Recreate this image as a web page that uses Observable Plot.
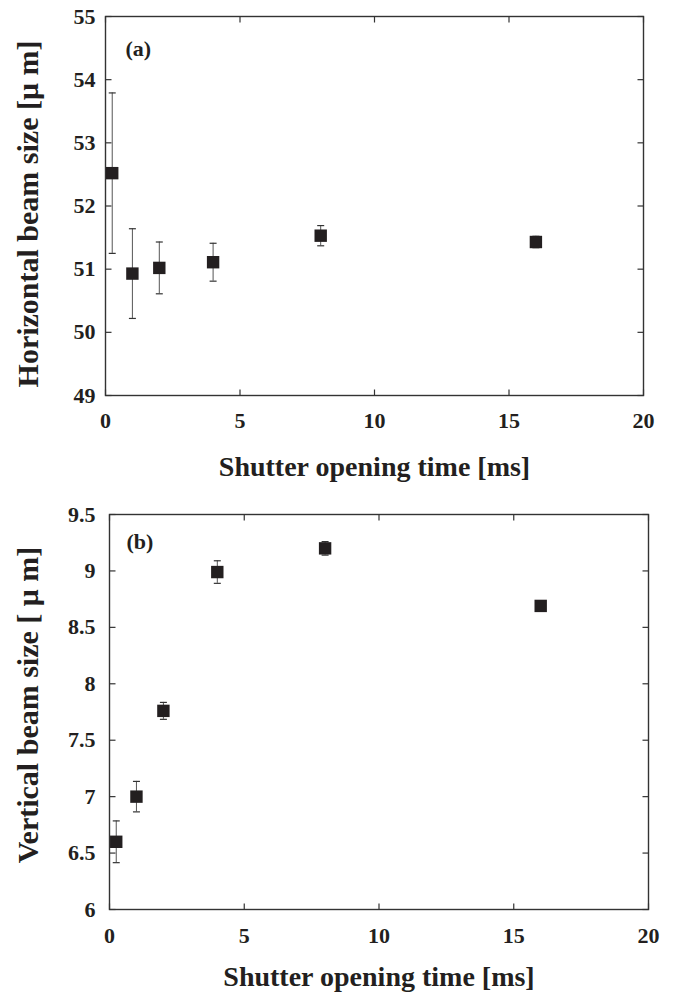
<!DOCTYPE html>
<html><head><meta charset="utf-8">
<script src="https://cdn.jsdelivr.net/npm/d3@7"></script>
<script src="https://cdn.jsdelivr.net/npm/@observablehq/plot@0.6"></script>
<style>
html,body{margin:0;padding:0;background:#fff;}
#chart{width:673px;}
#chart svg{display:block;overflow:visible;}
</style>
</head><body><div id="chart"></div>
<script>
// ---- data ----
const shutterTime = [0.25, 1, 2, 4, 8, 16];           // ms
const horizSize   = [52.52, 50.93, 51.02, 51.11, 51.53, 51.43]; // µm
const horizErr    = [1.27, 0.71, 0.41, 0.30, 0.16, 0.09];
const vertSize    = [6.60, 7.00, 7.76, 8.99, 9.20, 8.69];       // µm
const vertErr     = [0.185, 0.135, 0.075, 0.10, 0.06, 0.03];
const xTicks  = [0, 5, 10, 15, 20];
const yTicksA = [49, 50, 51, 52, 53, 54, 55];
const yTicksB = [6, 6.5, 7, 7.5, 8, 8.5, 9, 9.5];
const xLabel  = "Shutter opening time [ms]";
const yLabelA = "Horizontal beam size [\u03bc m]";
const yLabelB = "Vertical beam size [ \u03bc m]";
const tagA = "(a)", tagB = "(b)";

const FONT = "'Liberation Serif', 'Times New Roman', Times, serif";
const INK = "#231f20";

const seg = (dx, dy) => ({draw(ctx) { ctx.moveTo(0, 0); ctx.lineTo(dx, dy); }});
const cap = {draw(ctx) { ctx.moveTo(-3.5, 0); ctx.lineTo(3.5, 0); }};

function panel(cfg) {
  const data = shutterTime.map((x, i) => ({x, y: cfg.y[i], e: cfg.err[i]}));
  const T = 6;
  return Plot.plot({
    width: 673,
    height: cfg.height,
    marginTop: cfg.mt, marginBottom: cfg.mb, marginLeft: cfg.ml, marginRight: cfg.mr,
    style: {fontFamily: FONT, fontSize: "22px", fontWeight: "bold", color: INK, background: "#fff", overflow: "visible"},
    x: {domain: [0, 20]},
    y: {domain: cfg.domain},
    marks: [
      Plot.frame({stroke: "#333", strokeWidth: 1.4}),
      Plot.dot(xTicks, {x: d => d, frameAnchor: "bottom", symbol: seg(0, -T), stroke: "#333", fill: "none", strokeWidth: 1.2}),
      Plot.dot(xTicks, {x: d => d, frameAnchor: "top", symbol: seg(0, T), stroke: "#333", fill: "none", strokeWidth: 1.2}),
      Plot.dot(cfg.ticks, {y: d => d, frameAnchor: "left", symbol: seg(T, 0), stroke: "#333", fill: "none", strokeWidth: 1.2}),
      Plot.dot(cfg.ticks, {y: d => d, frameAnchor: "right", symbol: seg(-T, 0), stroke: "#333", fill: "none", strokeWidth: 1.2}),
      Plot.axisX(xTicks, {anchor: "bottom", tickSize: 0, tickPadding: cfg.xpad, tickFormat: d => String(d), label: null}),
      Plot.axisY(cfg.ticks, {anchor: "left", tickSize: 0, tickPadding: cfg.ypad, tickFormat: d => String(d), label: null}),
      Plot.ruleX(data, {x: "x", y1: d => d.y - d.e, y2: d => d.y + d.e, stroke: "#555", strokeWidth: 1}),
      Plot.dot(data, {x: "x", y: d => d.y + d.e, symbol: cap, stroke: "#333", fill: "none", strokeWidth: 1.2}),
      Plot.dot(data, {x: "x", y: d => d.y - d.e, symbol: cap, stroke: "#333", fill: "none", strokeWidth: 1.2}),
      Plot.dot(data, {x: "x", y: "y", symbol: "square", r: 7, fill: INK, stroke: "none"}),
      Plot.text([cfg.tag], {frameAnchor: "top-left", dx: cfg.tagDx, dy: cfg.tagDy, textAnchor: "start", lineAnchor: "top", fontSize: 22, fill: INK}),
      Plot.text([cfg.ylabel], {frameAnchor: "left", rotate: -90, dx: 28 - cfg.ml, dy: cfg.ylabDy, textAnchor: "middle", lineAnchor: "middle", fontSize: 30, fill: INK}),
      Plot.text([xLabel], {frameAnchor: "bottom", dy: cfg.xlabDy, textAnchor: "middle", lineAnchor: "middle", fontSize: 28, fill: INK})
    ]
  });
}

const chart = document.getElementById("chart");
chart.append(panel({
  y: horizSize, err: horizErr, domain: [49, 55], ticks: yTicksA,
  height: 500, mt: 16, mb: 105, ml: 105, mr: 30,
  xpad: 17, ypad: 10, tag: tagA, tagDx: 20, tagDy: 24,
  ylabel: yLabelA, ylabDy: 8, xlabDy: 72
}));
chart.append(panel({
  y: vertSize, err: vertErr, domain: [6, 9.5], ticks: yTicksB,
  height: 497, mt: 14, mb: 88, ml: 109, mr: 25,
  xpad: 18, ypad: 14, tag: tagB, tagDx: 17, tagDy: 19,
  ylabel: yLabelB, ylabDy: -7, xlabDy: 68
}));
</script>
</body></html>
